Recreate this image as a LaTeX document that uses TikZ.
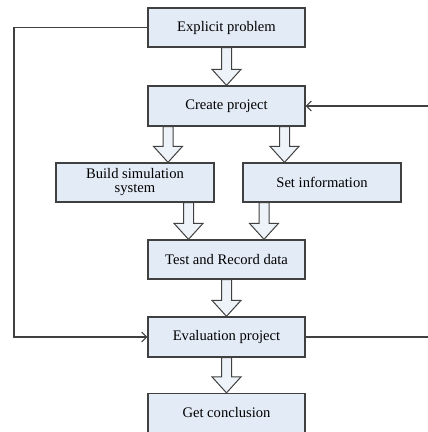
\documentclass[tikz,border=0pt]{standalone}
\usepackage{fontspec}
\setmainfont{Liberation Serif}
\usetikzlibrary{calc,arrows.meta}
\definecolor{boxfill}{HTML}{E3EBF6}
\definecolor{arrfill}{HTML}{EEF3FA}
\definecolor{linec}{HTML}{404040}
\tikzset{
  box/.style={draw=linec, line width=1.3pt, fill=boxfill, minimum width=157pt, minimum height=39pt, inner sep=0pt, align=center, font=\fontsize{14.6}{15}\selectfont},
  conn/.style={draw=linec, line width=1.1pt, -{Straight Barb[length=5pt,width=10pt,line width=1pt]}},
  barrowst/.style={draw=linec, line width=1pt, fill=arrfill, line join=miter}
}
\newcommand\blockarr[3]{%
  \path let \p1=(#2.south), \p2=(#3.north) in
    [barrowst] ({#1pt-5pt},\y1) -- ({#1pt+5pt},\y1) -- ({#1pt+5pt},\y2+16pt) -- ({#1pt+14.5pt},\y2+16pt)
    -- (#1pt,\y2) -- ({#1pt-14.5pt},\y2+16pt) -- ({#1pt-5pt},\y2+16pt) -- cycle;}
\begin{document}
\begin{tikzpicture}[x=1pt,y=-1pt]
\useasboundingbox (0,0) rectangle (428,432);
\node[box] (ep) at (226.5,27.5) {Explicit problem};
\node[box, minimum height=40pt] (cp) at (226.5,106) {Create project};
\node[box, minimum width=158pt, font=\fontsize{14.6}{14}\selectfont] (bs) at (135,182.5) {Build simulation\\system};
\node[box, minimum width=158pt] (si) at (322,182.5) {Set information};
\node[box] (tr) at (226.5,259.5) {Test and Record data};
\node[box, minimum height=40pt] (ev) at (226.5,337) {Evaluation project};
\node[box] (gc) at (226.5,413) {Get conclusion};
\coordinate (l1) at (14,27.5);
\coordinate (l2) at (14,337);
\coordinate (r1) at (440,337);
\coordinate (r2) at (440,106);
\blockarr{226.5}{ep}{cp}
\blockarr{168}{cp}{bs}
\blockarr{284.5}{cp}{si}
\blockarr{188.5}{bs}{tr}
\blockarr{264}{si}{tr}
\blockarr{226.5}{tr}{ev}
\blockarr{226.5}{ev}{gc}
\draw[conn] (ep.west) -- (l1) -- (l2) -- (ev.west);
\draw[conn] (ev.east) -- (r1) -- (r2) -- (cp.east);
\end{tikzpicture}
\end{document}
